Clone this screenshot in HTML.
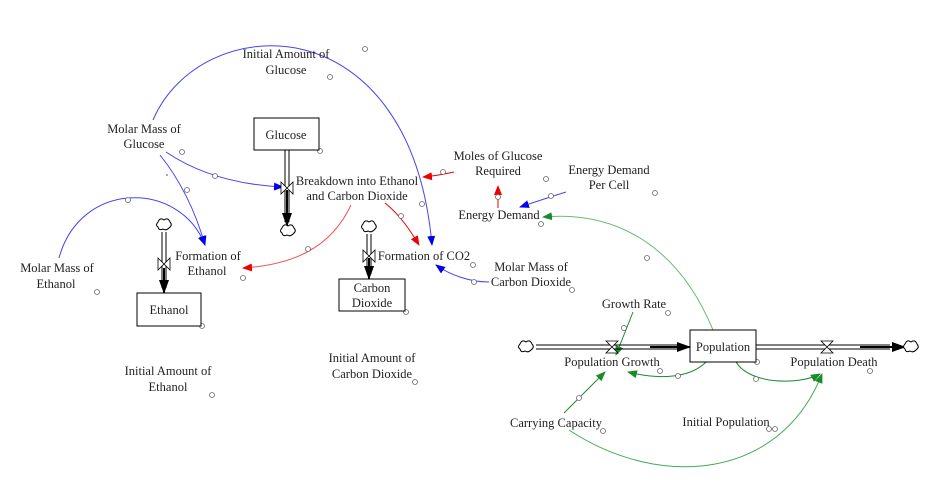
<!DOCTYPE html>
<html><head><meta charset="utf-8"><style>
html,body{margin:0;padding:0;background:#fff;width:931px;height:490px;overflow:hidden}
svg text{font-family:"Liberation Serif",serif;font-size:12.5px;fill:#222;text-anchor:middle}
</style></head><body>
<svg width="931" height="490" viewBox="0 0 931 490" xmlns="http://www.w3.org/2000/svg">
<defs>
<marker id="ab" markerWidth="10" markerHeight="8" refX="9" refY="4" orient="auto" markerUnits="userSpaceOnUse"><path d="M0,0 L10,4 L0,8z" fill="#0000ee"/></marker>
<marker id="ar" markerWidth="10" markerHeight="8" refX="9" refY="4" orient="auto" markerUnits="userSpaceOnUse"><path d="M0,0 L10,4 L0,8z" fill="#ee0000"/></marker>
<marker id="ag" markerWidth="10" markerHeight="8" refX="9" refY="4" orient="auto" markerUnits="userSpaceOnUse"><path d="M0,0 L10,4 L0,8z" fill="#1a8a2a"/></marker>
<marker id="ak" markerWidth="14" markerHeight="10" refX="13" refY="5" orient="auto" markerUnits="userSpaceOnUse"><path d="M0,0 L14,5 L0,10z" fill="#000"/></marker>
</defs>
<g fill="none" stroke-width="1">
<!-- blue links -->
<path d="M153,120 C200,10 410,0 432,245" stroke="#4444ee" marker-end="url(#ab)"/>
<path d="M166,152 C200,175 240,185 283,187" stroke="#4444ee" marker-end="url(#ab)"/>
<path d="M160,155 C180,180 195,210 205,245" stroke="#4444ee" marker-end="url(#ab)"/>
<path d="M59,258 C80,180 180,180 205,245" stroke="#4444ee" marker-end="url(#ab)"/>
<path d="M166,175 L168,175" stroke="#4444ee"/>
<path d="M489,282 C470,282 450,275 436,265" stroke="#4444ee" marker-end="url(#ab)"/>
<path d="M566,192 C550,197 535,202 520,207" stroke="#4444ee" marker-end="url(#ab)"/>
<!-- red links -->
<path d="M351,205 C330,250 290,265 243,268" stroke="#ee5555" marker-end="url(#ar)"/>
<path d="M385,203 C400,215 410,230 419,245" stroke="#ee0000" marker-end="url(#ar)"/>
<path d="M454,172 C445,174 435,176 423,177" stroke="#ee0000" marker-end="url(#ar)"/>
<path d="M498,208 L498,186" stroke="#ee0000" marker-end="url(#ar)"/>
<!-- green links -->
<path d="M713,330 C680,250 620,210 543,217" stroke="#66bb77" marker-end="url(#ag)"/>
<path d="M633,312 L616,355" stroke="#1a8a2a" marker-end="url(#ag)"/>
<path d="M706,362 C690,378 660,380 628,372" stroke="#1a8a2a" marker-end="url(#ag)"/>
<path d="M736,362 C750,385 800,385 820,374" stroke="#1a8a2a" marker-end="url(#ag)"/>
<path d="M564,413 L605,372" stroke="#1a8a2a" marker-end="url(#ag)"/>
<path d="M569,430 C660,490 780,480 822,374" stroke="#44aa55" marker-end="url(#ag)"/>
</g>
<!-- small link circles -->
<g fill="#fff" stroke="#666" stroke-width="0.8">
<circle cx="365" cy="49" r="2.5"/><circle cx="215" cy="176" r="2.5"/><circle cx="187" cy="190" r="2.5"/><circle cx="128" cy="200" r="2.5"/>
<circle cx="308" cy="249" r="2.5"/><circle cx="401" cy="216" r="2.5"/><circle cx="443" cy="172" r="2.5"/><circle cx="498" cy="197" r="2.5"/>
<circle cx="551" cy="196" r="2.5"/><circle cx="474" cy="282" r="2.5"/><circle cx="647" cy="258" r="2.5"/><circle cx="624" cy="328" r="2.5"/>
<circle cx="678" cy="376" r="2.5"/><circle cx="756" cy="379" r="2.5"/><circle cx="579" cy="398" r="2.5"/><circle cx="769" cy="429" r="2.5"/>
<circle cx="330" cy="77" r="2.5"/><circle cx="182" cy="152" r="2.5"/><circle cx="320" cy="151" r="2.5"/><circle cx="422" cy="204" r="2.5"/>
<circle cx="243" cy="278" r="2.5"/><circle cx="97" cy="292" r="2.5"/><circle cx="202" cy="326" r="2.5"/><circle cx="406" cy="312" r="2.5"/>
<circle cx="473" cy="265" r="2.5"/><circle cx="546" cy="179" r="2.5"/><circle cx="655" cy="193" r="2.5"/><circle cx="541" cy="224" r="2.5"/>
<circle cx="572" cy="290" r="2.5"/><circle cx="668" cy="313" r="2.5"/><circle cx="660" cy="371" r="2.5"/><circle cx="757" cy="362" r="2.5"/>
<circle cx="870" cy="371" r="2.5"/><circle cx="212" cy="395" r="2.5"/><circle cx="415" cy="382" r="2.5"/><circle cx="603" cy="431" r="2.5"/><circle cx="775" cy="429" r="2.5"/>
</g>
<!-- pipes -->
<g stroke="#000" fill="none">
<path d="M285,150 L285,222 M289,150 L289,222" stroke-width="1"/>
<path d="M287,190 L287,226" stroke-width="2" marker-end="url(#ak)"/>
<path d="M162,232 L162,288 M166,232 L166,288"/>
<path d="M164,268 L164,293" stroke-width="2" marker-end="url(#ak)"/>
<path d="M367,234 L367,274 M371,234 L371,274"/>
<path d="M369,258 L369,279" stroke-width="2" marker-end="url(#ak)"/>
<path d="M536,345 L680,345 M536,349 L680,349"/>
<path d="M650,347 L690,347" stroke-width="2" marker-end="url(#ak)"/>
<path d="M756,345 L890,345 M756,349 L890,349"/>
<path d="M860,347 L905,347" stroke-width="2" marker-end="url(#ak)"/>
</g>
<!-- valves -->
<g fill="#fff" stroke="#000" stroke-width="0.8">
<path d="M281,182 L293,194 L293,182 L281,194z"/>
<path d="M158,258 L170,270 L170,258 L158,270z"/>
<path d="M363,250 L375,262 L375,250 L363,262z"/>
<path d="M606,341 L618,341 L606,353 L618,353z"/>
<path d="M821,341 L833,341 L821,353 L833,353z"/>
</g>
<!-- clouds -->
<g fill="#fff" stroke="#000" stroke-width="1">
<path d="M282,228 q2,-5 6,-2 q4,-3 6,2 q3,3 -1,6 q-3,3 -6,1 q-4,2 -5,-2 q-3,-2 0,-5z"/>
<path d="M158,222 q2,-5 6,-2 q4,-3 6,2 q3,3 -1,6 q-3,3 -6,1 q-4,2 -5,-2 q-3,-2 0,-5z"/>
<path d="M363,224 q2,-5 6,-2 q4,-3 6,2 q3,3 -1,6 q-3,3 -6,1 q-4,2 -5,-2 q-3,-2 0,-5z"/>
<path d="M520,344 q2,-5 6,-2 q4,-3 6,2 q3,3 -1,6 q-3,3 -6,1 q-4,2 -5,-2 q-3,-2 0,-5z"/>
<path d="M905,344 q2,-5 6,-2 q4,-3 6,2 q3,3 -1,6 q-3,3 -6,1 q-4,2 -5,-2 q-3,-2 0,-5z"/>
</g>
<!-- boxes -->
<g fill="#fff" stroke="#000" stroke-width="1">
<rect x="254" y="118" width="65" height="32"/>
<rect x="137" y="293" width="64" height="33"/>
<rect x="339" y="279" width="66" height="32"/>
<rect x="690" y="330" width="66" height="32"/>
</g>
<text x="286" y="139">Glucose</text>
<text x="169" y="314">Ethanol</text>
<text x="372" y="292">Carbon</text><text x="372" y="307">Dioxide</text>
<text x="723" y="351">Population</text>
<text x="286" y="58">Initial Amount of</text><text x="286" y="74">Glucose</text>
<text x="144" y="133">Molar Mass of</text><text x="144" y="148">Glucose</text>
<text x="357" y="185">Breakdown into Ethanol</text><text x="357" y="200">and Carbon Dioxide</text>
<text x="208" y="260">Formation of</text><text x="207" y="275">Ethanol</text>
<text x="57" y="272">Molar Mass of</text><text x="56" y="288">Ethanol</text>
<text x="424" y="260">Formation of CO2</text>
<text x="498" y="160">Moles of Glucose</text><text x="498" y="175">Required</text>
<text x="609" y="174">Energy Demand</text><text x="609" y="189">Per Cell</text>
<text x="499" y="219">Energy Demand</text>
<text x="531" y="271">Molar Mass of</text><text x="531" y="286">Carbon Dioxide</text>
<text x="634" y="308">Growth Rate</text>
<text x="612" y="366">Population Growth</text>
<text x="834" y="366">Population Death</text>
<text x="168" y="375">Initial Amount of</text><text x="168" y="391">Ethanol</text>
<text x="372" y="362">Initial Amount of</text><text x="372" y="378">Carbon Dioxide</text>
<text x="556" y="427">Carrying Capacity</text>
<text x="726" y="426">Initial Population</text>
</svg>
</body></html>
